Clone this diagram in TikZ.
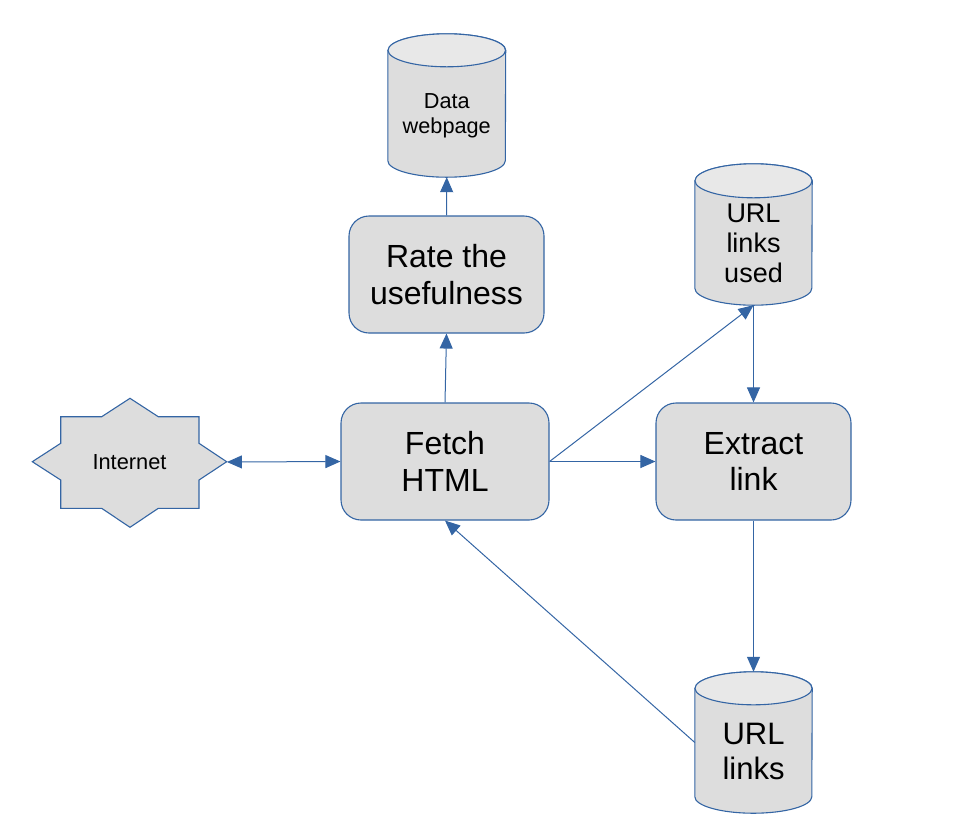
\documentclass[tikz,border=0pt]{standalone}
\usepackage{fontspec}
\setmainfont{Liberation Sans}
\usetikzlibrary{arrows.meta,backgrounds}
\definecolor{bord}{HTML}{3465A4}
\definecolor{boxfill}{HTML}{DDDDDD}
\definecolor{topfill}{HTML}{E8E8E8}
\newcommand\cylshape[3]{%
  \path[shapeline] ([yshift=-#3]#1.north west) -- ([yshift=#3]#1.south west)
    arc[start angle=180,end angle=360,x radius=#2,y radius=#3]
    -- ([yshift=-#3]#1.north east)
    arc[start angle=0,end angle=180,x radius=#2,y radius=#3] -- cycle;
  \path[shapeline,fill=topfill] ([yshift=-#3]#1.north) ellipse[x radius=#2,y radius=#3];
}
\begin{document}
\begin{tikzpicture}[x=1pt,y=1pt,
  shapeline/.style={draw=bord,fill=boxfill,line width=1.1pt},
  box/.style={shapeline,rounded corners=20pt,align=center,inner sep=0pt,
    font=\fontsize{32}{36.8}\selectfont},
  cylbox/.style={draw=none,inner sep=0pt,align=center},
  conn/.style={draw=bord,line width=1pt,-{Triangle[length=15pt,width=13pt]}},
]
\useasboundingbox (0,0) rectangle (965,-831);

% boxes
\node[box,minimum width=208pt,minimum height=117pt] (fetch) at (445,-461.5) {Fetch\\HTML};
\node[box,minimum width=195pt,minimum height=117pt] (rate) at (446.5,-274.5) {Rate the\\usefulness};
\node[box,minimum width=195pt,minimum height=117pt] (ext) at (753.5,-461.5) {Extract\\link};

% cylinders
\node[cylbox,minimum width=117.5pt,minimum height=143pt,
  label={[font=\fontsize{21.7}{25}\selectfont,align=center,yshift=-10pt]center:Data\\webpage}] (dw) at (446.75,-105.5) {};
\node[cylbox,minimum width=117pt,minimum height=141pt,
  label={[font=\fontsize{27}{30}\selectfont,align=center,yshift=-9pt]center:URL\\links\\used}] (used) at (753.5,-234.5) {};
\node[cylbox,minimum width=117pt,minimum height=141pt,
  label={[font=\fontsize{31}{35}\selectfont,align=center,yshift=-9pt]center:URL\\links}] (links) at (753.5,-742.5) {};

% internet
\node[cylbox,minimum width=194.5pt,minimum height=129pt,font=\fontsize{21.8}{25}\selectfont] (inet) at (129.5,-462) {Internet};

\begin{scope}[on background layer]
  \cylshape{dw}{58.75pt}{16.5pt}
  \cylshape{used}{58.5pt}{17pt}
  \cylshape{links}{58.5pt}{16.5pt}
  \path[shapeline] (130,-398.3) -- (158.3,-416.7) -- (199,-416.7) -- (199,-443.3)
    -- (226.7,-461.7) -- (199,-480) -- (199,-508.3) -- (158.3,-508.3)
    -- (130,-527.3) -- (101.7,-508.3) -- (60.7,-508.3) -- (60.7,-480)
    -- (32.3,-461.7) -- (60.7,-443.3) -- (60.7,-416.7) -- (101.7,-416.7) -- cycle;
\end{scope}

% connectors
\draw[conn,{Triangle[length=15pt,width=13pt]}-{Triangle[length=15pt,width=13pt]}] (inet.east) -- (fetch.west);
\draw[conn] (fetch.north) -- (rate.south);
\draw[conn] (rate.north) -- (dw.south);
\draw[conn] (fetch.east) -- (ext.west);
\draw[conn] (fetch.east) -- (used.south);
\draw[conn] (used.south) -- (ext.north);
\draw[conn] (ext.south) -- (links.north);
\draw[conn] (links.west) -- (fetch.south);
\end{tikzpicture}
\end{document}
